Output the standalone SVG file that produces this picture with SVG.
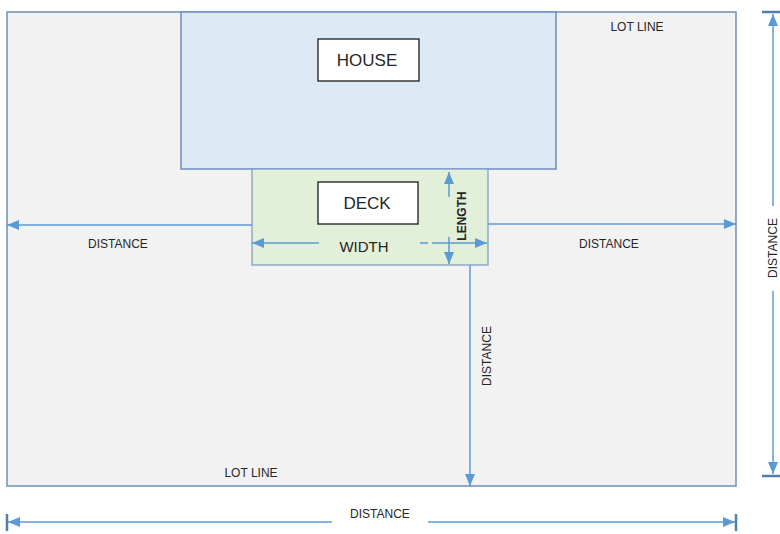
<svg xmlns="http://www.w3.org/2000/svg" width="780" height="534" viewBox="0 0 780 534">
<style>
.lbl{font-family:"Liberation Sans",Arial,sans-serif;fill:#262626}
.sm{font-size:12px}
.big{font-size:17px}
.arr{stroke:#5b9bd5;stroke-width:1.5;fill:none}
.tick{stroke:#4f7fb3;stroke-width:2.5;fill:none}
</style>
<defs>
<marker id="ah" viewBox="0 0 12 10" refX="12" refY="5" markerWidth="12" markerHeight="10" markerUnits="userSpaceOnUse" orient="auto-start-reverse">
<path d="M0,0 L12,5 L0,10 Z" fill="#5b9bd5"/>
</marker>
</defs>
<rect x="0" y="0" width="780" height="534" fill="#ffffff"/>
<g id="lot">
<rect x="7" y="12" width="729" height="474" fill="#f2f2f2" stroke="#6f8fb9" stroke-width="1.5"/>
<text class="lbl sm" x="637" y="31" text-anchor="middle">LOT LINE</text>
<text class="lbl sm" x="251" y="477" text-anchor="middle">LOT LINE</text>
</g>
<g id="house">
<rect x="181" y="12" width="375" height="157" fill="#dde9f5" stroke="#6a8ebf" stroke-width="1.5"/>
<rect x="318" y="39" width="101" height="42" fill="#ffffff" stroke="#1a1a1a" stroke-width="1.3"/>
<text class="lbl big" x="367" y="66" text-anchor="middle">HOUSE</text>
</g>
<g id="deck">
<rect x="252" y="169" width="236" height="96" fill="#e2efd9" stroke="#7f9fc5" stroke-width="1.3"/>
<rect x="318" y="182" width="100" height="42" fill="#ffffff" stroke="#1a1a1a" stroke-width="1.3"/>
<text class="lbl big" x="367" y="209" text-anchor="middle">DECK</text>
</g>
<g id="connectors">
<line class="arr" x1="252" y1="225" x2="7" y2="225" marker-end="url(#ah)"/>
<line class="arr" x1="488" y1="224" x2="736" y2="224" marker-end="url(#ah)"/>
<line class="arr" x1="319" y1="243" x2="252" y2="243" marker-end="url(#ah)"/>
<line class="arr" x1="420" y1="243" x2="428" y2="243"/>
<line class="arr" x1="432" y1="243" x2="487" y2="243" marker-end="url(#ah)"/>
<line class="arr" x1="449" y1="197" x2="449" y2="172" marker-end="url(#ah)"/>
<line class="arr" x1="449" y1="237" x2="449" y2="264" marker-end="url(#ah)"/>
<line class="arr" x1="470" y1="265" x2="470" y2="486" marker-end="url(#ah)"/>
<line class="arr" x1="773" y1="206" x2="773" y2="14" marker-end="url(#ah)"/>
<line class="arr" x1="773" y1="291" x2="773" y2="474" marker-end="url(#ah)"/>
<line class="tick" x1="762" y1="12" x2="780" y2="12"/>
<line class="tick" x1="762" y1="476" x2="780" y2="476"/>
<line class="arr" x1="332" y1="522" x2="8" y2="522" marker-end="url(#ah)"/>
<line class="arr" x1="428" y1="522" x2="735" y2="522" marker-end="url(#ah)"/>
<line class="tick" x1="7" y1="514" x2="7" y2="531"/>
<line class="tick" x1="736" y1="514" x2="736" y2="531"/>
</g>
<g id="labels">
<text class="lbl sm" x="118" y="248" text-anchor="middle">DISTANCE</text>
<text class="lbl sm" x="609" y="248" text-anchor="middle">DISTANCE</text>
<text class="lbl" x="364" y="252" text-anchor="middle" font-size="15">WIDTH</text>
<text class="lbl sm" transform="translate(466,216) rotate(-90)" text-anchor="middle" font-weight="bold" fill="#000">LENGTH</text>
<text class="lbl sm" transform="translate(491,356) rotate(-90)" text-anchor="middle">DISTANCE</text>
<text class="lbl sm" transform="translate(777,248) rotate(-90)" text-anchor="middle">DISTANCE</text>
<text class="lbl sm" x="380" y="518" text-anchor="middle">DISTANCE</text>
</g>
</svg>
